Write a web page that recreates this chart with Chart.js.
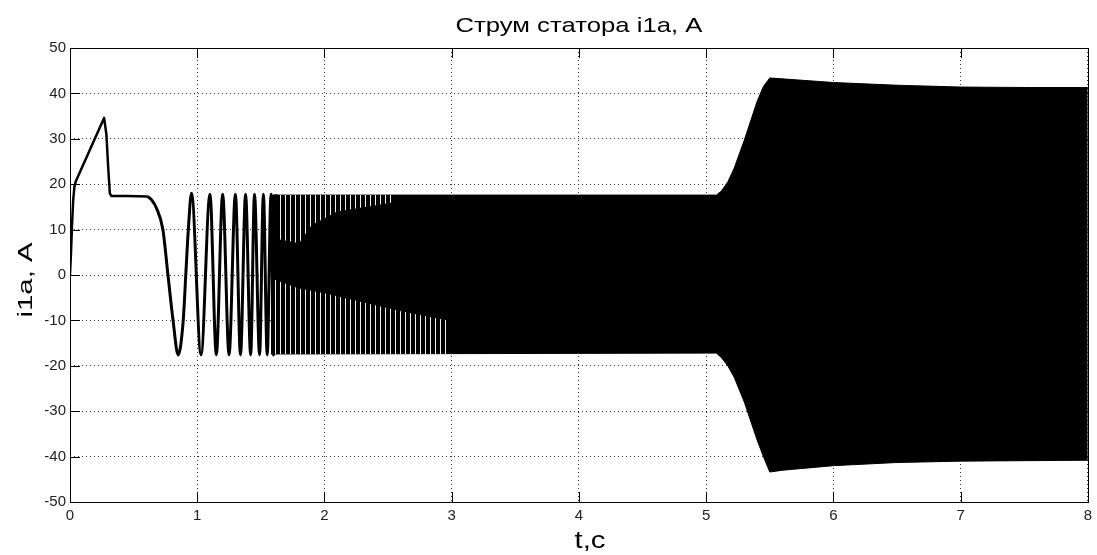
<!DOCTYPE html>
<html>
<head>
<meta charset="utf-8">
<script src="https://cdn.jsdelivr.net/npm/chart.js@4"></script>
<style>
  html, body { margin: 0; padding: 0; background: #fff; }
  canvas { display: block; }
</style>
</head>
<body>
<canvas id="chart" width="1097" height="555"></canvas>
<script>
// start-up current (straight pieces)
const startT = [0, 0.008, 0.016, 0.025, 0.035, 0.045, 0.268, 0.286, 0.3, 0.313, 0.326, 0.45, 0.61];
const startI = [0, 5, 11, 16.5, 19.5, 20.6, 34.6, 31, 23.8, 18, 17.4, 17.4, 17.3];

// first oscillations that can still be told apart
const oscT = [0.61, 0.64, 0.68, 0.73, 0.77, 0.81, 0.85, 0.89, 0.91, 0.93, 0.955,
  1.03, 1.10, 1.15, 1.20, 1.25, 1.30, 1.34, 1.38, 1.42, 1.45, 1.49, 1.52, 1.55, 1.58, 1.60, 1.62];
const oscI = [17.3, 16.6, 14.7, 10, 0, -10, -17.6, -10, 0, 10, 18,
  -17.6, 17.8, -17.6, 17.8, -17.6, 17.8, -17.6, 17.8, -17.6, 17.8, -17.6, 17.8, -17.6, 17.8, -17.6, 17.8];

// dense part: upper and lower envelope of the oscillation
const envT = [1.58, 5.08, 5.12, 5.17, 5.22, 5.3, 5.4, 5.45, 5.5, 5.6, 6.0, 6.5, 7.0, 7.5, 8.0];
const envHi = [17.6, 17.6, 18.5, 20.5, 23.5, 29.7, 38.2, 41.5, 43.4, 43.2, 42.4, 41.8, 41.4, 41.3, 41.3];
const envLo = [-17.4, -17.2, -18.2, -20, -22.5, -28, -36.3, -40, -43.4, -43, -42, -41.3, -41, -40.9, -40.8];

// parts of the band where thin white gaps show between the lines
const gapLowT = [1.6, 1.8, 2.0, 2.3, 2.6, 2.97];
const gapLowTop = [-1, -3, -4, -6, -8, -10];
const gapHighT = [1.62, 1.8, 1.9, 2.1, 2.55];
const gapHighBottom = [8, 7, 11, 14, 16];

const titleText = "Струм статора i1a, A";
const xLabel = "t,c";
const yLabel = "i1a, A";

const pts = (xs, ys) => xs.map((x, i) => ({ x, y: ys[i] }));

const canvas = document.getElementById("chart");
const ctx = canvas.getContext("2d");

function stripePattern() {
  const c = document.createElement("canvas");
  c.width = 5;
  c.height = 4;
  const g = c.getContext("2d");
  g.fillStyle = "rgba(255,255,255,0.95)";
  g.fillRect(0, 0, 1, 4);
  return ctx.createPattern(c, "repeat");
}
const stripes = stripePattern();

function stretchedText(c, text, x, y, width, font, rot) {
  c.save();
  c.font = font;
  const w = c.measureText(text).width;
  c.translate(x, y);
  if (rot) c.rotate(rot);
  c.scale(width / w, 1);
  c.textAlign = "center";
  c.textBaseline = "alphabetic";
  c.fillStyle = "#000";
  c.fillText(text, 0, 0);
  c.restore();
}

// matlab style box, inward ticks and labels
const matlabFrame = {
  id: "matlabFrame",
  afterDraw(chart) {
    const { ctx: c, chartArea: a, scales } = chart;
    c.save();
    c.strokeStyle = "#000";
    c.lineWidth = 1;
    c.beginPath();
    scales.x.ticks.forEach((t) => {
      const px = Math.round(scales.x.getPixelForValue(t.value)) + 0.5;
      c.moveTo(px, a.bottom); c.lineTo(px, a.bottom - 10);
      c.moveTo(px, a.top); c.lineTo(px, a.top + 10);
    });
    scales.y.ticks.forEach((t) => {
      const py = Math.round(scales.y.getPixelForValue(t.value)) + 0.5;
      c.moveTo(a.left, py); c.lineTo(a.left + 10, py);
      c.moveTo(a.right, py); c.lineTo(a.right - 10, py);
    });
    c.stroke();
    c.strokeRect(Math.round(a.left) + 0.5, Math.round(a.top) + 0.5,
      Math.round(a.right - a.left), Math.round(a.bottom - a.top));
    c.restore();

    const font = "'Liberation Sans', Arial, sans-serif";
    stretchedText(c, titleText, (a.left + a.right) / 2, 32, 247, "21px " + font);
    stretchedText(c, xLabel, 590, 548, 31, "23px " + font);
    stretchedText(c, yLabel, 32, 280, 75, "21px " + font, -Math.PI / 2);
  },
};

const lineBase = { pointRadius: 0, borderColor: "#000", tension: 0, borderJoinStyle: "round" };
const tickFont = { family: "'Liberation Sans', Arial, sans-serif", size: 15 };

new Chart(ctx, {
  type: "line",
  data: {
    datasets: [
      {
        ...lineBase,
        data: pts(gapHighT, gapHighBottom),
        borderWidth: 0,
        backgroundColor: stripes,
        fill: { value: envHi[0] },
      },
      {
        ...lineBase,
        data: pts(gapLowT, gapLowTop),
        borderWidth: 0,
        backgroundColor: stripes,
        fill: { value: envLo[0] },
      },
      {
        ...lineBase,
        data: pts(startT, startI),
        borderWidth: 2.5,
        fill: false,
      },
      {
        ...lineBase,
        data: pts(oscT, oscI),
        borderWidth: 3,
        cubicInterpolationMode: "monotone",
        fill: false,
      },
      {
        ...lineBase,
        data: pts(envT, envHi),
        borderWidth: 1,
        backgroundColor: "#000",
        fill: "+1",
      },
      {
        ...lineBase,
        data: pts(envT, envLo),
        borderWidth: 1,
        fill: false,
      },
    ],
  },
  options: {
    responsive: false,
    animation: false,
    layout: { padding: { top: 48, right: 5, left: 0, bottom: 0 } },
    plugins: {
      legend: { display: false },
      tooltip: { enabled: false },
      title: { display: false },
    },
    scales: {
      x: {
        type: "linear",
        min: 0,
        max: 8,
        ticks: { stepSize: 1, padding: 5, color: "#222", maxRotation: 0, font: tickFont },
        grid: { color: "#333", lineWidth: 1, drawTicks: false },
        border: { display: false, dash: [1, 3] },
        afterFit: (s) => { s.height = 53; },
      },
      y: {
        min: -50,
        max: 50,
        ticks: { stepSize: 10, padding: 4, color: "#222", font: tickFont },
        grid: { color: "#333", lineWidth: 1, drawTicks: false },
        border: { display: false, dash: [1, 3] },
        afterFit: (s) => { s.width = 70; },
      },
    },
  },
  plugins: [matlabFrame],
});
</script>
</body>
</html>
